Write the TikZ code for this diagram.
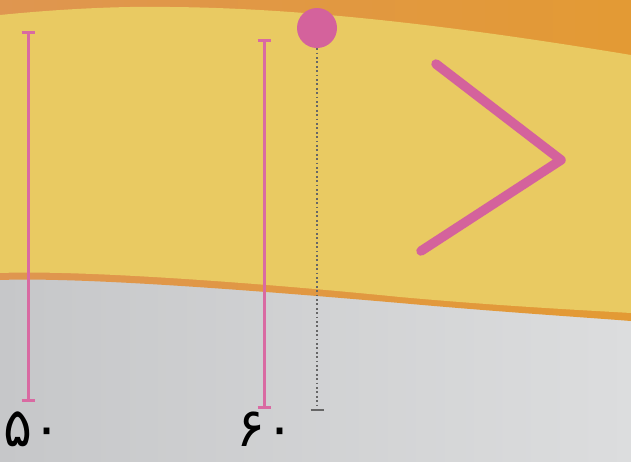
\documentclass[tikz,border=0pt]{standalone}
\usepackage{fontspec}
\newfontfamily\digitfont[Script=Arabic]{DejaVu Sans}
\definecolor{orng}{HTML}{E39A34}
\definecolor{orngL}{HTML}{DF9650}
\definecolor{yel}{HTML}{E9CA62}
\definecolor{greyL}{HTML}{C6C7C9}
\definecolor{greyR}{HTML}{DCDDDE}
\definecolor{pnk}{HTML}{D4629C}
\definecolor{pnkline}{HTML}{D96AA2}
\definecolor{dotg}{HTML}{666666}
\tikzset{
  rangeline/.style={draw=pnkline, line width=3pt},
  capline/.style={draw=pnkline, line width=3pt},
  dotline/.style={draw=dotg, line width=2pt, dash pattern=on 1.8pt off 2.6pt},
  chevron/.style={draw=pnk, line width=9.5pt, line cap=round, line join=round},
  lbl/.style={font=\digitfont\fontsize{54}{54}\selectfont, text=black, inner sep=0pt, anchor=base west}
}
\begin{document}
\begin{tikzpicture}[x=1pt,y=-1pt]
\useasboundingbox (0,0) rectangle (631,461);
% grey background
\shade[left color=greyL, right color=greyR] (0,0) rectangle (631,461);
% orange area (top band + lower stripe)
\shade[left color=orngL, right color=orng] (0,0) -- (631,0) -- (631,321)
  .. controls (580,317) and (500,312) .. (400,303)
  .. controls (250,290) and (80,277) .. (0,280) -- cycle;
% yellow area
\fill[yel] (0,15) .. controls (60,9) and (120,6) .. (170,7)
  .. controls (300,8) and (450,25) .. (631,55) -- (631,313)
  .. controls (580,310) and (500,306) .. (400,297)
  .. controls (250,282) and (80,270) .. (0,273) -- cycle;
% range lines
\coordinate (a1) at (28,32); \coordinate (a2) at (28,400);
\coordinate (b1) at (264,40); \coordinate (b2) at (264,407);
\draw[rangeline] (a1) -- (a2);
\draw[capline] ([xshift=-6.5pt]a1) -- ([xshift=6.5pt]a1);
\draw[capline] ([xshift=-6.5pt]a2) -- ([xshift=6.5pt]a2);
\draw[rangeline] (b1) -- (b2);
\draw[capline] ([xshift=-6.5pt]b1) -- ([xshift=6.5pt]b1);
\draw[capline] ([xshift=-6.5pt]b2) -- ([xshift=6.5pt]b2);
% marker and dotted line
\node[circle, fill=pnk, minimum size=40pt, inner sep=0pt] (dot) at (317,28) {};
\coordinate (tick) at (317,410);
\draw[dotline] (dot.south) -- (tick);
\draw[draw=dotg, line width=2.6pt] ([xshift=-6.5pt]tick) -- ([xshift=6.5pt]tick);
% chevron
\coordinate (c1) at (436,64); \coordinate (c2) at (561,160); \coordinate (c3) at (421,251);
\draw[chevron] (c1) -- (c2) -- (c3);
% labels
\node[lbl] (l50) at (3,446) {۵۰};
\node[lbl] (l60) at (236,446) {۶۰};
\end{tikzpicture}
\end{document}
